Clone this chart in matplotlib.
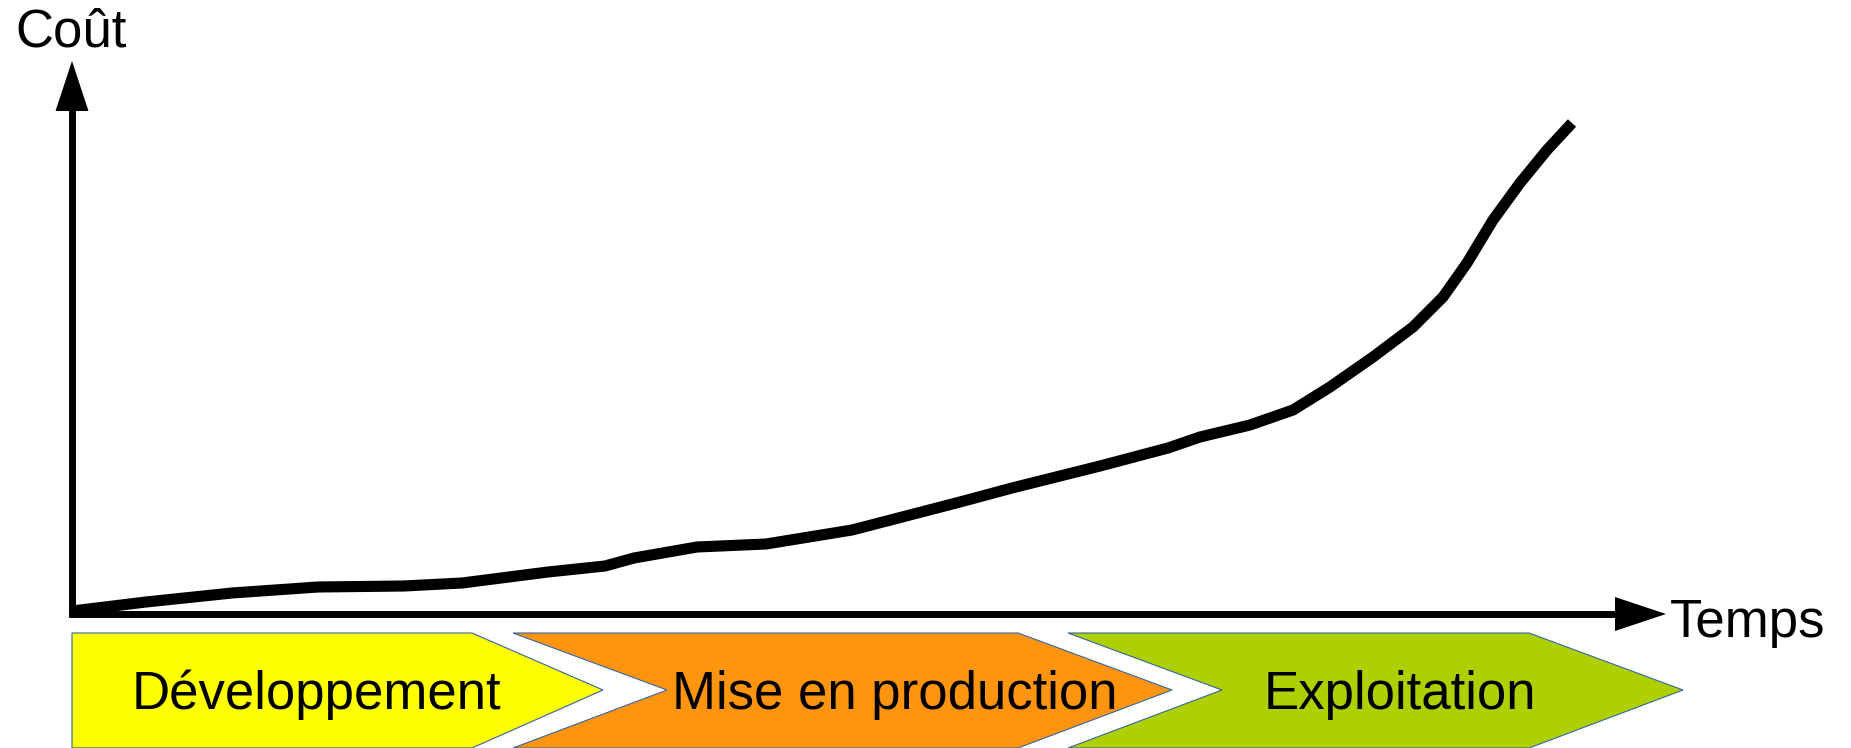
import numpy as np
import matplotlib.pyplot as plt
from matplotlib.patches import Polygon

plt.rcParams['font.family'] = ['Liberation Sans', 'DejaVu Sans']

# cost curve (pixel units, y grows downward)
curve_t = [72, 146, 232, 318, 404, 462, 548, 605, 634, 697, 766, 852, 960,
           1012, 1100, 1168, 1200, 1250, 1293, 1330, 1373, 1413, 1443, 1467,
           1493, 1520, 1547, 1572]
curve_cost = [611, 602, 593, 587, 586, 583, 572, 566, 558, 547, 544, 530, 502,
              488, 466, 448, 437, 425, 410, 387, 357, 327, 297, 263,
              220, 183, 150, 123]

# phases shown under the time axis
phase_names = ["Développement", "Mise en production", "Exploitation"]
phase_colors = ["#ffff00", "#ff950e", "#aecf00"]
phase_start = [72, 513, 1068]
phase_end = [472, 1018, 1529]
phase_depth = [131, 154, 154]
phase_label_x = [316, 895, 1400]

W, H = 1851, 748
fig = plt.figure(figsize=(W / 100, H / 100), dpi=100)
ax = fig.add_axes([0, 0, 1, 1])
ax.set_xlim(0, W)
ax.set_ylim(H, 0)
ax.axis("off")

# axes lines with arrow heads
x0, y0 = 72, 614
ax.plot([x0, x0], [y0 + 3, 108], color="black", lw=5, solid_capstyle="butt")
ax.plot([x0 - 3, 1620], [y0, y0], color="black", lw=5, solid_capstyle="butt")
ax.add_patch(Polygon([[x0 - 16.5, 111], [x0, 61], [x0 + 16.5, 111]],
                     closed=True, color="black", lw=0))
ax.add_patch(Polygon([[1615, y0 - 17], [1666, y0], [1615, y0 + 17]],
                     closed=True, color="black", lw=0))

# cost curve
ax.plot(curve_t, curve_cost, color="black", lw=8,
        solid_joinstyle="round", solid_capstyle="butt")

# phase chevrons
top, mid, bot = 633, 690, 748
for i, name in enumerate(phase_names):
    s, e, d = phase_start[i], phase_end[i], phase_depth[i]
    pts = [[s, top], [e, top], [e + d, mid], [e, bot], [s, bot]]
    if i > 0:
        pts.append([s + d, mid])
    ax.add_patch(Polygon(pts, closed=True, facecolor=phase_colors[i],
                         edgecolor="#3465a4", lw=0.8, clip_on=False))
    ax.text(phase_label_x[i], 709, name, fontsize=38, ha="center",
            va="baseline")

ax.text(15, 46, "Coût", fontsize=38, ha="left", va="baseline")
ax.text(1670, 637, "Temps", fontsize=38, ha="left", va="baseline")

fig.savefig("out.png", dpi=100)
